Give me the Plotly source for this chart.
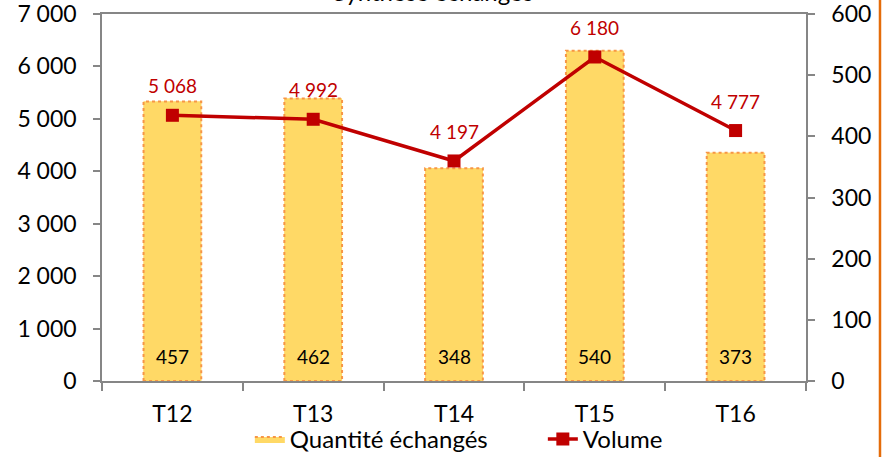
import plotly.graph_objects as go

# Quarterly exchange summary
categories = ["T12", "T13", "T14", "T15", "T16"]
quantite = [457, 462, 348, 540, 373]          # right axis (bars)
volume = [5068, 4992, 4197, 6180, 4777]       # left axis (line)

left_ticks = [0, 1000, 2000, 3000, 4000, 5000, 6000, 7000]
right_ticks = [0, 100, 200, 300, 400, 500, 600]

FONT = "Lato, 'Open Sans', sans-serif"
BAR_FILL = "#FFD966"
BAR_EDGE = "#F79646"
LINE_RED = "#C00000"
AXIS_GREY = "#868686"
BAR_WIDTH = 0.41


def spaced(n):
    return f"{n:,}".replace(",", " ")


pos = list(range(len(categories)))

fig = go.Figure()

# Bars (quantities) on the right-hand axis
fig.add_trace(go.Bar(
    x=pos, y=quantite, yaxis="y", width=BAR_WIDTH,
    marker=dict(color=BAR_FILL, line=dict(width=0)),
    showlegend=False, hoverinfo="skip",
))

# Dotted outline of each bar, built from the bar values
ox, oy = [], []
for i, v in zip(pos, quantite):
    l, r = i - BAR_WIDTH / 2, i + BAR_WIDTH / 2
    ox += [l, l, r, r, l, None]
    oy += [0, v, v, 0, 0, None]
fig.add_trace(go.Scatter(
    x=ox, y=oy, yaxis="y", mode="lines", fill="toself", fillcolor=BAR_FILL,
    line=dict(color=BAR_EDGE, width=2, dash="dot"),
    name="Quantité échangés", hoverinfo="skip",
))

# Volume line on the left-hand axis (overlay, drawn above the bars)
fig.add_trace(go.Scatter(
    x=pos, y=volume, yaxis="y2", name="Volume", mode="lines+markers",
    line=dict(color=LINE_RED, width=3.5),
    marker=dict(symbol="square", size=13, color=LINE_RED),
))

annotations = []
for i, v in zip(pos, quantite):
    annotations.append(dict(
        x=i, y=0, xref="x", yref="y", text=str(v), showarrow=False,
        yanchor="bottom", yshift=11, font=dict(size=19, color="#000000"),
    ))
for i, v in zip(pos, volume):
    annotations.append(dict(
        x=i, y=v, xref="x", yref="y2", text=spaced(v), showarrow=False,
        yanchor="bottom", yshift=16, font=dict(size=19, color=LINE_RED),
    ))
annotations.append(dict(
    text="Synthèse échanges", xref="paper", yref="paper",
    x=0.470, y=1.0, xanchor="center", yanchor="bottom", yshift=6,
    showarrow=False, font=dict(size=24),
))

fig.update_layout(
    width=888, height=457,
    margin=dict(l=102, r=82, t=14, b=76, autoexpand=False),
    paper_bgcolor="white", plot_bgcolor="white",
    font=dict(family=FONT, size=22, color="#000000"),
    xaxis=dict(
        range=[-0.5, 4.5], tickvals=pos, ticktext=categories, ticks="",
        showline=True, linecolor=AXIS_GREY, linewidth=1.5, mirror=True,
        minor=dict(tick0=-0.5, dtick=1, ticks="outside", ticklen=8,
                   tickcolor=AXIS_GREY, tickwidth=1.5),
        showgrid=False, zeroline=False, tickfont=dict(size=23),
        ticklabelstandoff=12,
    ),
    yaxis=dict(
        side="right", range=[0, 600], tickvals=right_ticks,
        showline=True, linecolor=AXIS_GREY, linewidth=1.5,
        ticks="outside", ticklen=7, tickcolor=AXIS_GREY, tickwidth=1.5,
        showgrid=False, zeroline=False, tickfont=dict(size=23),
        ticklabelstandoff=12, ticklabeloverflow="allow",
    ),
    yaxis2=dict(
        overlaying="y", side="left", range=[0, 7000], tickvals=left_ticks,
        ticktext=[spaced(t) for t in left_ticks],
        showline=True, linecolor=AXIS_GREY, linewidth=1.5,
        ticks="outside", ticklen=7, tickcolor=AXIS_GREY, tickwidth=1.5,
        showgrid=False, zeroline=False, tickfont=dict(size=23),
        ticklabelstandoff=12, ticklabeloverflow="allow",
    ),
    legend=dict(
        orientation="h", x=0.210, xanchor="left", y=-0.098, yanchor="top",
        font=dict(size=24), traceorder="normal", entrywidth=248,
        bgcolor="rgba(0,0,0,0)",
    ),
    annotations=annotations,
    shapes=[dict(
        type="line", xref="paper", yref="paper",
        x0=1.1051, x1=1.1051, y0=-0.3, y1=1.1,
        line=dict(color="#E46C0A", width=2.5),
    )],
)

fig.write_html("out.html")
